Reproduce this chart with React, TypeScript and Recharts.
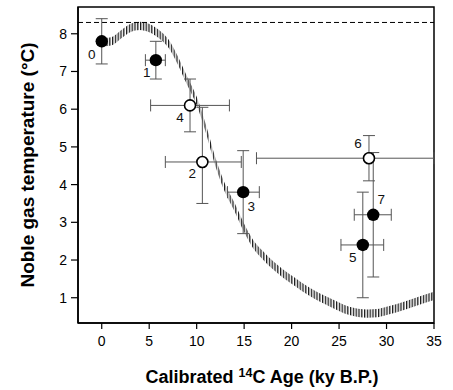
import {
  ComposedChart,
  Area,
  Scatter,
  ErrorBar,
  XAxis,
  YAxis,
  ReferenceLine,
  ReferenceArea,
} from "recharts";

// model curve (hatched band)
const CURVE_AGE = [
  0.3, 1, 2, 3, 4, 5, 6, 7, 8, 9, 10, 11, 12, 13, 14, 15, 16, 17, 18, 19, 20,
  22, 24, 26, 28, 29, 30, 32, 34, 35,
];
const CURVE_TEMP = [
  7.78, 7.8, 7.98, 8.15, 8.21, 8.15, 8.0, 7.75, 7.3, 6.75, 6.22, 5.46, 4.58,
  3.9, 3.4, 2.85, 2.4, 2.12, 1.87, 1.66, 1.48, 1.14, 0.88, 0.66, 0.58, 0.59,
  0.65, 0.8, 0.97, 1.05,
];
const CURVE_HALF = 0.11;

// noble gas samples
const PT_LABEL = ["0", "1", "2", "3", "4", "5", "6", "7"];
const PT_AGE = [0, 5.7, 10.6, 14.9, 9.3, 27.5, 28.15, 28.6];
const PT_TEMP = [7.8, 7.3, 4.6, 3.8, 6.1, 2.4, 4.7, 3.2];
const PT_AGE_LO = [0, 4.6, 6.7, 13.25, 5.15, 25.2, 16.3, 26.6];
const PT_AGE_HI = [0, 6.7, 14.7, 16.6, 13.45, 29.7, 35, 30.5];
const PT_TEMP_LO = [7.2, 6.8, 3.5, 2.7, 5.4, 1.0, 4.1, 1.55];
const PT_TEMP_HI = [8.4, 7.8, 6.05, 4.9, 6.8, 3.8, 5.3, 4.85];
const PT_OPEN = [false, false, true, false, true, false, true, false];

const REF_TEMP = 8.3;
const X_TICKS = [0, 5, 10, 15, 20, 25, 30, 35];
const Y_TICKS = [1, 2, 3, 4, 5, 6, 7, 8];

const FONT = '"Liberation Sans", Arial, Helvetica, sans-serif';

// label offsets from point centre (px)
const LABEL_OFFSET: Record<string, [number, number]> = {
  "0": [-10, 13],
  "1": [-9, 12],
  "2": [-10, 12],
  "3": [8, 14],
  "4": [-10, 12],
  "5": [-10, 13],
  "6": [-11, -15],
  "7": [8, -15],
};

const curveData = CURVE_AGE.map((x, i) => ({
  x,
  band: [CURVE_TEMP[i] - CURVE_HALF, CURVE_TEMP[i] + CURVE_HALF],
}));

const points = PT_LABEL.map((label, i) => ({
  label,
  x: PT_AGE[i],
  y: PT_TEMP[i],
  ex: [PT_AGE[i] - PT_AGE_LO[i], PT_AGE_HI[i] - PT_AGE[i]],
  ey: [PT_TEMP[i] - PT_TEMP_LO[i], PT_TEMP_HI[i] - PT_TEMP[i]],
  open: PT_OPEN[i],
}));

function PointShape(props: any) {
  const { cx, cy, payload } = props;
  const [dx, dy] = LABEL_OFFSET[payload.label] ?? [0, 0];
  return (
    <g>
      {payload.open ? (
        <circle cx={cx} cy={cy} r={5.5} fill="#fff" stroke="#000" strokeWidth={1.6} />
      ) : (
        <circle cx={cx} cy={cy} r={6.2} fill="#000" />
      )}
      <text
        x={cx + dx}
        y={cy + dy}
        textAnchor="middle"
        dominantBaseline="central"
        fontSize={13.5}
        fontFamily={FONT}
        fill="#111"
      >
        {payload.label}
      </text>
    </g>
  );
}

function XLabel(props: any) {
  const vb = props.viewBox;
  return (
    <text
      x={vb.x + vb.width / 2 + 6}
      y={383}
      textAnchor="middle"
      fontSize={18}
      fontWeight="bold"
      fontFamily={FONT}
      fill="#000"
    >
      Calibrated{" "}
      <tspan fontSize={12.5} dy={-6}>
        14
      </tspan>
      <tspan dy={6}>C Age (ky B.P.)</tspan>
    </text>
  );
}

function YLabel(props: any) {
  const vb = props.viewBox;
  const cx = 27;
  const cy = vb.y + vb.height / 2;
  return (
    <text
      x={cx}
      y={cy}
      transform={`rotate(-90, ${cx}, ${cy})`}
      textAnchor="middle"
      dominantBaseline="central"
      fontSize={19}
      fontWeight="bold"
      fontFamily={FONT}
      fill="#000"
    >
      Noble gas temperature (°C)
    </text>
  );
}

export default function App() {
  return (
    <div style={{ position: "absolute", left: 0, top: 0, background: "#fff" }}>
      <ComposedChart
        width={453}
        height={390}
        data={curveData}
        margin={{ top: 7, right: 19, bottom: 0, left: 0 }}
      >
        <defs>
          <pattern id="hatch" width={2.8} height={6} patternUnits="userSpaceOnUse">
            <rect x={0} y={0} width={1.3} height={6} fill="#1a1a1a" />
          </pattern>
        </defs>
        <XAxis
          type="number"
          dataKey="x"
          domain={[-2.5, 35]}
          ticks={X_TICKS}
          allowDataOverflow
          height={67}
          tickSize={6}
          tickMargin={7}
          axisLine={{ stroke: "#000", strokeWidth: 1.5 }}
          tickLine={{ stroke: "#000", strokeWidth: 1.2 }}
          tick={{ fill: "#000", fontSize: 14, fontFamily: FONT }}
          label={<XLabel />}
        />
        <YAxis
          type="number"
          domain={[0.33, 8.71]}
          ticks={Y_TICKS}
          allowDataOverflow
          width={78}
          tickSize={7}
          tickMargin={4}
          axisLine={{ stroke: "#000", strokeWidth: 1.5 }}
          tickLine={{ stroke: "#000", strokeWidth: 1.2 }}
          tick={{ fill: "#000", fontSize: 14, fontFamily: FONT }}
          label={<YLabel />}
        />
        <Area
          type="monotone"
          dataKey="band"
          stroke="none"
          fill="url(#hatch)"
          fillOpacity={1}
          isAnimationActive={false}
        />
        <ReferenceLine
          y={REF_TEMP}
          stroke="#000"
          strokeWidth={1}
          strokeDasharray="5 3"
        />
        <Scatter
          data={points}
          dataKey="y"
          shape={PointShape}
          isAnimationActive={false}
        >
          <ErrorBar dataKey="ex" direction="x" width={6} stroke="#555" strokeWidth={1} />
          <ErrorBar dataKey="ey" direction="y" width={6} stroke="#555" strokeWidth={1} />
        </Scatter>
        <ReferenceArea
          x1={-2.5}
          x2={35}
          y1={0.33}
          y2={8.71}
          fill="none"
          stroke="#000"
          strokeWidth={1.5}
        />
      </ComposedChart>
    </div>
  );
}
